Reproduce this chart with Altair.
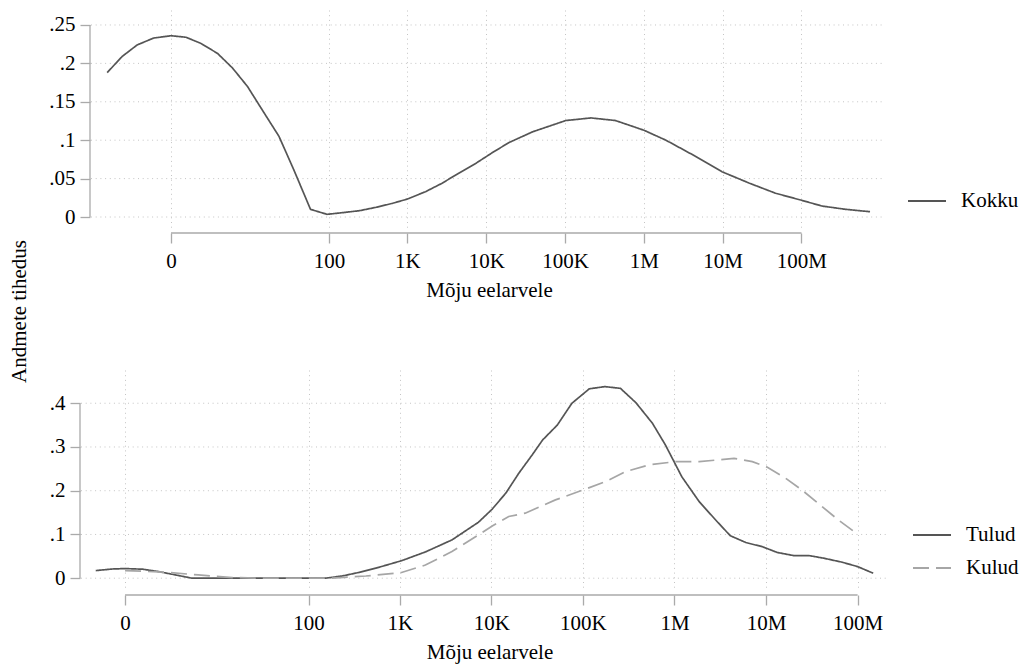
import altair as alt
import pandas as pd

FONT = "Liberation Serif"

# x positions are log10(1 + impact) (so 2.0043 = 100, 3 = 1K, ...)
kokku_t = [-0.81, -0.62, -0.43, -0.22, 0.0, 0.19, 0.38, 0.59, 0.78, 0.97, 1.16, 1.37, 1.56, 1.77,
           1.98, 2.17, 2.39, 2.60, 2.81, 3.0, 3.23, 3.44, 3.65, 3.87, 4.08, 4.29, 4.59, 5.01, 5.33,
           5.64, 6.0, 6.28, 6.62, 6.99, 7.34, 7.67, 7.99, 8.26, 8.56, 8.87]
kokku_v = [0.188, 0.209, 0.224, 0.233, 0.236, 0.234, 0.226, 0.213, 0.194, 0.170, 0.139, 0.105, 0.061,
           0.010, 0.0035, 0.0056, 0.0082, 0.0126, 0.0178, 0.0234, 0.033, 0.044, 0.057, 0.070, 0.084,
           0.097, 0.111, 0.1256, 0.129, 0.1256, 0.113, 0.100, 0.081, 0.059, 0.044, 0.031, 0.0221,
           0.0143, 0.010, 0.0069]

tulud_t = [-0.32, -0.14, 0, 0.19, 0.37, 0.55, 0.73, 1.2, 1.7, 2.19, 2.37, 2.55, 2.74, 3.02, 3.28,
           3.57, 3.86, 4.01, 4.16, 4.30, 4.45, 4.56, 4.72, 4.88, 5.07, 5.24, 5.41, 5.58, 5.76, 5.90,
           6.08, 6.27, 6.45, 6.61, 6.78, 6.96, 7.12, 7.30, 7.47, 7.63, 7.83, 8.0, 8.17]
tulud_v = [0.0174, 0.021, 0.022, 0.0206, 0.015, 0.0075, 0.0, 0.0, 0.0, 0.0, 0.005, 0.013, 0.023,
           0.040, 0.060, 0.0875, 0.128, 0.158, 0.195, 0.240, 0.283, 0.316, 0.350, 0.400, 0.433,
           0.438, 0.434, 0.401, 0.354, 0.305, 0.232, 0.175, 0.133, 0.097, 0.0815, 0.072, 0.059,
           0.0517, 0.0517, 0.0457, 0.0366, 0.0265, 0.0114]

kulud_t = [0, 0.44, 0.80, 1.17, 1.5, 2.26, 2.63, 3.02, 3.28, 3.57, 3.86, 4.01, 4.19, 4.37, 4.70,
           5.02, 5.25, 5.47, 5.72, 6.01, 6.27, 6.45, 6.65, 6.85, 7.01, 7.21, 7.39, 7.57, 7.79, 8.0]
kulud_v = [0.0174, 0.0137, 0.0075, 0.0015, 0.0, 0.0, 0.005, 0.013, 0.030, 0.061, 0.099, 0.1195,
           0.141, 0.1486, 0.179, 0.203, 0.221, 0.244, 0.259, 0.2665, 0.2665, 0.270, 0.274, 0.2665,
           0.254, 0.229, 0.202, 0.171, 0.133, 0.1006]

tick_pos = [0, 2.0043, 3, 4, 5, 6, 7, 8]
tick_lab = ["0", "100", "1K", "10K", "100K", "1M", "10M", "100M"]
top_yticks = [0, 0.05, 0.1, 0.15, 0.2, 0.25]
bot_yticks = [0, 0.1, 0.2, 0.3, 0.4]

x_title = "Mõju eelarvele"
y_title = "Andmete tihedus"

label_expr = "".join(f"abs(datum.value - {p}) < 0.01 ? '{l}' : " for p, l in zip(tick_pos, tick_lab)) + "''"
y_expr = "datum.value == 0 ? '0' : replace(format(datum.value, '.2~f'), '0.', '.')"

AXIS_COL = "#aaaaaa"
GRID_COL = "#c4c4c4"
DARK = "#555555"
LIGHT = "#a6a6a6"
FS = 21


def panel(frames, names, colors, dashes, W, H, xdom, ydom, yticks, legx, legy, yoff, ytitle=None):
    df = pd.concat(frames, ignore_index=True)
    leg = alt.Legend(title=None, orient="none", legendX=legx, legendY=legy, symbolType="stroke",
                     symbolSize=1444, symbolStrokeWidth=1.8, labelFont=FONT, labelFontSize=FS,
                     labelColor="black", rowPadding=3, labelOffset=14)
    yaxis_kw = dict(values=yticks, labelExpr=y_expr, offset=yoff, tickSize=10, ticks=True,
                    tickColor=AXIS_COL, domain=False, grid=False, labelPadding=5)
    if ytitle:
        yaxis_kw.update(title=ytitle, titleX=-71 - (yoff - 3), titleY=301, titleAngle=270,
                        titleAlign="center", titleBaseline="middle")
    else:
        yaxis_kw.update(title=None)
    xscale = alt.Scale(domain=xdom, nice=False, zero=False)
    yscale = alt.Scale(domain=ydom, nice=False, zero=False)
    # horizontal dotted grid lines reaching to the y axis line
    grid = alt.Chart(pd.DataFrame({"v": yticks})).mark_rule(
        color=GRID_COL, strokeDash=[1, 3.7], strokeWidth=1).encode(
        y=alt.Y("v:Q", scale=yscale), x=alt.value(-yoff + 1), x2=alt.value(W))
    line = alt.Chart(df).mark_line(strokeWidth=1.7).encode(
        x=alt.X("t:Q", scale=xscale,
                axis=alt.Axis(values=tick_pos, labelExpr=label_expr, title=x_title, offset=5,
                              tickSize=10, ticks=True, tickColor=AXIS_COL, domain=False, grid=True,
                              labelPadding=7, titlePadding=8)),
        y=alt.Y("v:Q", scale=yscale, axis=alt.Axis(**yaxis_kw)),
        color=alt.Color("s:N", scale=alt.Scale(domain=names, range=colors), legend=leg),
        strokeDash=alt.StrokeDash("s:N", scale=alt.Scale(domain=names, range=dashes), legend=leg),
        order="t:Q",
    )
    xline = alt.Chart(pd.DataFrame({"t": [tick_pos[0]], "t_end": [tick_pos[-1]]})).mark_rule(
        color=AXIS_COL, strokeWidth=1.3).encode(x="t:Q", x2="t_end:Q", y=alt.value(H + 5))
    yline = alt.Chart(pd.DataFrame({"v": [yticks[0]], "v_end": [yticks[-1]]})).mark_rule(
        color=AXIS_COL, strokeWidth=1.3).encode(y="v:Q", y2="v_end:Q", x=alt.value(-yoff))
    return alt.layer(grid, line, xline, yline).properties(width=W, height=H)


top = panel([pd.DataFrame({"t": kokku_t, "v": kokku_v, "s": "Kokku"})],
            ["Kokku"], [DARK], [[1, 0]], 792, 218, [-0.99, 9.06], [-0.0143, 0.2695],
            top_yticks, 814, 171, 3, ytitle=y_title)

bottom = panel([pd.DataFrame({"t": tulud_t, "v": tulud_v, "s": "Tulud"}),
                pd.DataFrame({"t": kulud_t, "v": kulud_v, "s": "Kulud"})],
               ["Tulud", "Kulud"], [DARK, LIGHT], [[1, 0], [16, 7]], 793, 220,
               [-0.35, 8.31], [-0.027, 0.476], bot_yticks, 819, 145, 13)

chart = alt.vconcat(top, bottom, spacing=142, bounds="flush").resolve_scale(
    x="independent", y="independent", color="independent", strokeDash="independent"
).resolve_legend(color="independent", strokeDash="independent").properties(
    padding={"left": 8, "top": 10, "right": 0, "bottom": 5},
).configure_view(stroke=None).configure_axis(
    labelFont=FONT, labelFontSize=FS, labelColor="black", titleFont=FONT, titleFontSize=FS,
    titleFontWeight="normal", titleColor="black", tickColor=AXIS_COL, tickWidth=1.3,
    gridColor=GRID_COL, gridDash=[1, 3.7], gridWidth=1,
)

chart.save("out.html", embed_options={"renderer": "svg", "actions": False})
